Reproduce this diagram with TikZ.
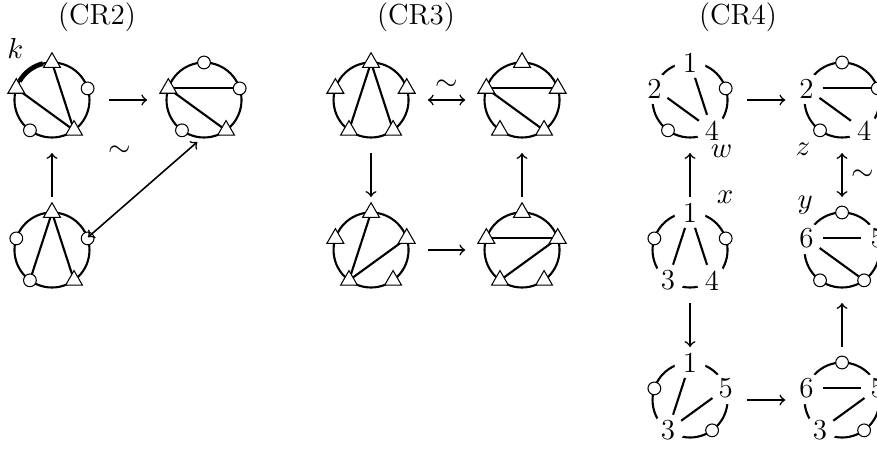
\documentclass[tikz,border=0pt]{standalone}
\usepackage{tikz}
\usetikzlibrary{shapes,positioning,calc}

% a chord diagram: holder node #1 at #2, circle and five corner points #1-1 ... #1-5
\newcommand{\pent}[2]{%
  \node[hold] (#1) at (#2) {};
  \draw[ring] (#1.center) circle (0.5);
  \foreach \i/\a in {1/90,2/162,3/234,4/306,5/18}
    \coordinate (#1-\i) at ($(#1.center)+(\a:0.5)$);
}

\begin{document}
\begin{tikzpicture}[font=\fontsize{11}{13}\selectfont]
        %styles
        \tikzstyle{hold}=[rectangle, minimum width=1.5cm, minimum height=1.4cm, inner sep=0pt]
        \tikzstyle{ring}=[line width=0.8pt]
        \tikzstyle{chord}=[line width=0.8pt]
        \tikzstyle{tri}=[regular polygon, regular polygon sides=3, draw, fill=white, line width=0.4pt, inner sep=0pt, minimum size=0.26cm]
        \tikzstyle{dot}=[circle, draw, fill=white, line width=0.4pt, inner sep=0pt, minimum size=0.17cm]
        \tikzstyle{num}=[circle, fill=white, inner sep=1pt]
        \tikzstyle{commu}=[->, line width=0.6pt]
        \tikzstyle{commuboth}=[<->, line width=0.6pt]
        \tikzstyle{title}=[inner sep=0pt]

        \useasboundingbox (0,0) rectangle (11.693,-6.013);

        %titles
        \node[title] (t2) at (1.293,-0.227) {(CR2)};
        \node[title] (t3) at (5.547,-0.227) {(CR3)};
        \node[title] (t4) at (9.84,-0.227) {(CR4)};

        %CR2
        \pent{c2a}{0.693,-1.333}
        \draw[line width=1.8pt] ($(c2a.center)+(104:0.5)$) arc (104:150:0.5);
        \draw[chord] (c2a-1) -- (c2a-4);
        \draw[chord] (c2a-2) -- (c2a-4);
        \node[tri] (a1) at (c2a-1) {};
        \node[tri] (a2) at (c2a-2) {};
        \node[dot] (a3) at (c2a-3) {};
        \node[tri] (a4) at (c2a-4) {};
        \node[dot] (a5) at (c2a-5) {};
        \node (k) at ($(c2a.center)+(-0.49,0.69)$) {$k$};

        \pent{c2b}{2.72,-1.333}
        \draw[chord] (c2b-2) -- (c2b-5);
        \draw[chord] (c2b-2) -- (c2b-4);
        \node[dot] (b1) at (c2b-1) {};
        \node[tri] (b2) at (c2b-2) {};
        \node[dot] (b3) at (c2b-3) {};
        \node[tri] (b4) at (c2b-4) {};
        \node[dot] (b5) at (c2b-5) {};

        \pent{c2c}{0.693,-3.333}
        \draw[chord] (c2c-1) -- (c2c-3);
        \draw[chord] (c2c-1) -- (c2c-4);
        \node[tri] (c1) at (c2c-1) {};
        \node[dot] (c2) at (c2c-2) {};
        \node[dot] (c3) at (c2c-3) {};
        \node[tri] (c4) at (c2c-4) {};
        \node[dot] (c5) at (c2c-5) {};

        %CR3
        \pent{c3a}{4.947,-1.333}
        \draw[chord] (c3a-1) -- (c3a-3);
        \draw[chord] (c3a-1) -- (c3a-4);
        \node[tri] (d1) at (c3a-1) {};
        \node[tri] (d2) at (c3a-2) {};
        \node[tri] (d3) at (c3a-3) {};
        \node[tri] (d4) at (c3a-4) {};
        \node[tri] (d5) at (c3a-5) {};

        \pent{c3b}{6.96,-1.333}
        \draw[chord] (c3b-2) -- (c3b-5);
        \draw[chord] (c3b-2) -- (c3b-4);
        \node[tri] (e1) at (c3b-1) {};
        \node[tri] (e2) at (c3b-2) {};
        \node[tri] (e3) at (c3b-3) {};
        \node[tri] (e4) at (c3b-4) {};
        \node[tri] (e5) at (c3b-5) {};

        \pent{c3c}{4.947,-3.333}
        \draw[chord] (c3c-3) -- (c3c-1);
        \draw[chord] (c3c-3) -- (c3c-5);
        \node[tri] (f1) at (c3c-1) {};
        \node[tri] (f2) at (c3c-2) {};
        \node[tri] (f3) at (c3c-3) {};
        \node[tri] (f4) at (c3c-4) {};
        \node[tri] (f5) at (c3c-5) {};

        \pent{c3d}{6.96,-3.333}
        \draw[chord] (c3d-2) -- (c3d-5);
        \draw[chord] (c3d-5) -- (c3d-3);
        \node[tri] (g1) at (c3d-1) {};
        \node[tri] (g2) at (c3d-2) {};
        \node[tri] (g3) at (c3d-3) {};
        \node[tri] (g4) at (c3d-4) {};
        \node[tri] (g5) at (c3d-5) {};

        %CR4
        \pent{c4a}{9.2,-1.333}
        \node[num] (h1) at (c4a-1) {1};
        \node[num] (h2) at (c4a-2) {2};
        \node[dot] (h3) at (c4a-3) {};
        \node[num] (h4) at (c4a-4) {4};
        \node[dot] (h5) at (c4a-5) {};
        \draw[chord] (h1) -- (h4);
        \draw[chord] (h2) -- (h4);
        \node (w) at ($(c4a.center)+(0.42,-0.69)$) {$w$};

        \pent{c4b}{11.227,-1.333}
        \node[dot] (i1) at (c4b-1) {};
        \node[num] (i2) at (c4b-2) {2};
        \node[dot] (i3) at (c4b-3) {};
        \node[num] (i4) at (c4b-4) {4};
        \node[dot] (i5) at (c4b-5) {};
        \draw[chord] (i2) -- (i5);
        \draw[chord] (i2) -- (i4);
        \node (z) at ($(c4b.center)+(-0.52,-0.66)$) {$z$};

        \pent{c4c}{9.2,-3.333}
        \node[num] (j1) at (c4c-1) {1};
        \node[dot] (j2) at (c4c-2) {};
        \node[num] (j3) at (c4c-3) {3};
        \node[num] (j4) at (c4c-4) {4};
        \node[dot] (j5) at (c4c-5) {};
        \draw[chord] (j1) -- (j3);
        \draw[chord] (j1) -- (j4);
        \node (x) at ($(c4c.center)+(0.467,0.707)$) {$x$};

        \pent{c4d}{11.227,-3.333}
        \node[dot] (l1) at (c4d-1) {};
        \node[num] (l2) at (c4d-2) {6};
        \node[dot] (l3) at (c4d-3) {};
        \node[dot] (l4) at (c4d-4) {};
        \node[num] (l5) at (c4d-5) {5};
        \draw[chord] (l2) -- (l5);
        \draw[chord] (l2) -- (l4);
        \node (y) at ($(c4d.center)+(-0.49,0.6)$) {$y$};

        \pent{c4e}{9.2,-5.333}
        \node[num] (m1) at (c4e-1) {1};
        \node[dot] (m2) at (c4e-2) {};
        \node[num] (m3) at (c4e-3) {3};
        \node[dot] (m4) at (c4e-4) {};
        \node[num] (m5) at (c4e-5) {5};
        \draw[chord] (m1) -- (m3);
        \draw[chord] (m3) -- (m5);

        \pent{c4f}{11.227,-5.333}
        \node[dot] (n1) at (c4f-1) {};
        \node[num] (n2) at (c4f-2) {6};
        \node[num] (n3) at (c4f-3) {3};
        \node[dot] (n4) at (c4f-4) {};
        \node[num] (n5) at (c4f-5) {5};
        \draw[chord] (n2) -- (n5);
        \draw[chord] (n3) -- (n5);

        %arrows
        \coordinate (s2c) at ($(c2c.center)+(0.48,0.17)$);
        \coordinate (s2b) at ($(c2b.center)+(-0.09,-0.56)$);

        \draw[commu] (c2a) -- (c2b);
        \draw[commu] (c2c) -- (c2a);
        \draw[commuboth] (s2c) -- (s2b) node[pos=0.55, above left=0.25cm and 0.1cm] (sim2) {$\sim$};

        \draw[commuboth] (c3a) -- (c3b) node[midway, above] (sim3) {$\sim$};
        \draw[commu] (c3a) -- (c3c);
        \draw[commu] (c3c) -- (c3d);
        \draw[commu] (c3d) -- (c3b);

        \draw[commu] (c4c) -- (c4a);
        \draw[commu] (c4a) -- (c4b);
        \draw[commuboth] (c4b) -- (c4d) node[midway, right] (sim4) {$\sim$};
        \draw[commu] (c4c) -- (c4e);
        \draw[commu] (c4e) -- (c4f);
        \draw[commu] (c4f) -- (c4d);
\end{tikzpicture}
\end{document}
